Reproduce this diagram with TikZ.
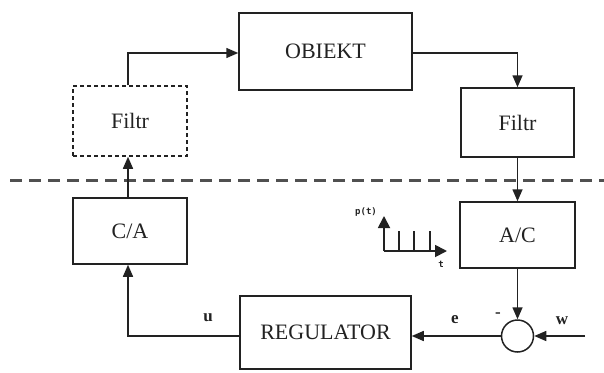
\documentclass[tikz,border=0pt]{standalone}
\usepackage{fontspec}
\setmainfont{Liberation Serif}
\newfontfamily\pulsefont{DejaVu Sans Mono}
\usetikzlibrary{arrows.meta}
\definecolor{ink}{HTML}{222222}
\definecolor{dashgray}{HTML}{505050}
\begin{document}
\begin{tikzpicture}[x=1pt,y=-1pt,
  blk/.style={draw=ink,line width=1.5pt,minimum width=#1,inner sep=0pt,font=\fontsize{22}{26}\selectfont,text=ink},
  conn/.style={draw=ink,line width=1.5pt,-{Triangle[length=12pt,width=10pt]}},
  lbl/.style={font=\fontsize{17}{19}\selectfont\bfseries,text=ink,inner sep=0pt},
  small/.style={font=\fontsize{9}{10}\pulsefont\bfseries,text=ink,inner sep=0pt}]
\useasboundingbox (0,0) rectangle (604,372);
\fill[white] (0,0) rectangle (604,372);
% blocks
\node[blk=173pt,minimum height=77pt] (obj) at (325.5,51.5) {OBIEKT};
\node[blk=114pt,minimum height=70pt,dash pattern=on 4pt off 3pt] (fl) at (130,121) {Filtr};
\node[blk=113pt,minimum height=69pt] (fr) at (517.5,122.5) {Filtr};
\node[blk=114pt,minimum height=66pt] (ca) at (130,231) {C/A};
\node[blk=115pt,minimum height=66pt] (ac) at (517.5,235) {A/C};
\node[blk=171pt,minimum height=73pt] (reg) at (325.5,332.5) {REGULATOR};
\node[draw=ink,line width=1.5pt,circle,minimum size=32pt,inner sep=0pt] (sum) at (517.5,336) {};
% dashed separator
\coordinate (dl) at (10,180);
\coordinate (dr) at (604,180);
\draw[dashgray,line width=3pt,dash pattern=on 12pt off 7pt] (dl) -- (dr);
% connectors
\coordinate (c1) at (128,53);
\draw[conn] (fl.north -| c1) -- (c1) -- (obj.west |- c1);
\coordinate (c2) at (517.5,53);
\draw[conn] (obj.east |- c2) -- (c2) -- (fr.north);
\draw[conn] (fr.south) -- (ac.north);
\draw[conn] (ca.north -| c1) -- (fl.south -| c1);
\coordinate (c3) at (128,336);
\draw[conn] (reg.west |- c3) -- (c3) -- (ca.south -| c3);
\draw[conn] (ac.south) -- (sum.north);
\draw[conn] (sum.west) -- (reg.east |- sum.west);
\coordinate (win) at (585,336);
\draw[conn] (win) -- (sum.east);
% labels
\node[lbl] (lu) at (208,318) {u};
\node[lbl] (le) at (455,320) {e};
\node[lbl] (lw) at (562,321) {w};
\node[lbl] (lm) at (498,315) {-};
% pulse sketch
\coordinate (o) at (384,251);
\coordinate (py) at (384,216);
\coordinate (px) at (447,251);
\draw[ink,line width=1.8pt,-{Triangle[length=12pt,width=12pt]}] (o) -- (py);
\draw[ink,line width=1.8pt,-{Triangle[length=12pt,width=12pt]}] (o) -- (px);
\foreach \xx in {399,414,430}{
  \draw[ink,line width=1.8pt] (\xx,251) -- (\xx,231);
}
\node[small] (lp) at (366,212) {p(t)};
\node[small] (lt) at (441,264) {t};
\end{tikzpicture}
\end{document}
